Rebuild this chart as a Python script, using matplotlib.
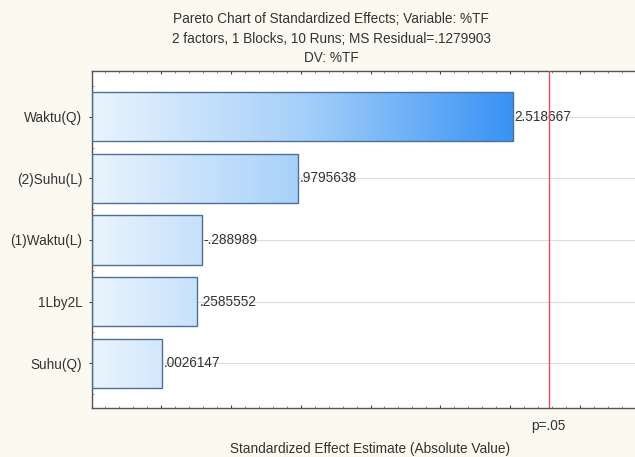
import numpy as np
import matplotlib
matplotlib.use("Agg")
import matplotlib.pyplot as plt
from matplotlib.colors import LinearSegmentedColormap
from matplotlib.ticker import MultipleLocator, NullFormatter

# ---- data ----
categories = ["Waktu(Q)", "(2)Suhu(L)", "(1)Waktu(L)", "1Lby2L", "Suhu(Q)"]
effects = [2.518667, 0.9795638, -0.288989, 0.2585552, 0.0026147]
t_crit = 2.776445  # p=.05, df=4
title_lines = ["Pareto Chart of Standardized Effects; Variable: %TF",
               "2 factors, 1 Blocks, 10 Runs; MS Residual=.1279903",
               "DV: %TF"]
xlabel = "Standardized Effect Estimate (Absolute Value)"
p_label = "p=.05"

def fmt(v):
    s = f"{v:.7g}"
    s = s.replace("-0.", "-.")
    if s.startswith("0."):
        s = s[1:]
    return s

plt.rcParams['font.family'] = ['Liberation Sans', 'DejaVu Sans']
txt_color = "#333333"
fs = 9.8

fig = plt.figure(figsize=(6.35, 4.57), dpi=100, facecolor="#FCF9F0")
W, H = 635, 457
ax = fig.add_axes([91.5 / W, 1 - 408 / H, 558 / W, 337 / H])
ax.set_facecolor("white")

xmin, xmax = -0.5, 3.5
y = np.arange(len(categories))

# grid lines at categories
for yi in y:
    ax.axhline(yi, color="#DCDCDC", lw=0.8, zorder=0)

cmap = LinearSegmentedColormap.from_list(
    "statblue", [(0, "#EAF4FE"), (0.5, "#A6D0F9"), (1, "#3892F5")])
grad = np.linspace(0, 1, 256).reshape(1, -1)
absvals = [abs(v) for v in effects]
gmax = max(absvals)

bars = ax.barh(y, [a - xmin for a in absvals], left=xmin, height=0.8,
               facecolor="none", edgecolor="#4F6F98", linewidth=1.0, zorder=3)
for b in bars:
    im = ax.imshow(grad, cmap=cmap, aspect="auto",
                   extent=(xmin, gmax, b.get_y() + b.get_height(), b.get_y()),
                   zorder=2, interpolation="bilinear")
    im.set_clip_path(b)
ax.set_xlim(xmin, xmax)
ax.set_ylim(len(categories) - 1 + 0.725, -0.741)

for yi, v, a in zip(y, effects, absvals):
    ax.annotate(fmt(v), xy=(a, yi), xytext=(2, 0), textcoords="offset pixels",
                ha="left", va="center", fontsize=fs, color=txt_color, zorder=4)

# critical value line
ax.axvline(t_crit, color="#E0505A", lw=1.0, zorder=5)
ax.annotate(p_label, xy=(t_crit, 0), xycoords=("data", "axes fraction"),
            xytext=(0, -18), textcoords="offset pixels", ha="center", va="center",
            fontsize=fs, color=txt_color, annotation_clip=False)

# ticks
ax.set_yticks(y)
ax.set_yticklabels(categories, fontsize=fs, color=txt_color)
ax.xaxis.set_major_locator(MultipleLocator(0.5))
ax.xaxis.set_minor_locator(MultipleLocator(0.1))
ax.xaxis.set_major_formatter(NullFormatter())
ax.tick_params(axis="x", which="major", direction="in", length=2.5, width=0.8,
               top=True, bottom=True, color="#444444")
ax.tick_params(axis="x", which="minor", direction="in", length=1.2, width=0.6,
               top=True, bottom=True, color="#777777")
ax.tick_params(axis="y", which="major", direction="out", length=2.5, width=0.8,
               pad=4, color="#444444")
ax.yaxis.set_minor_locator(MultipleLocator(0.25))
ax.tick_params(axis="y", which="minor", direction="in", length=1.2, width=0.6,
               color="#777777")
for s in ax.spines.values():
    s.set_color("#555555")
    s.set_linewidth(1.0)

# titles
tx = 331 / W
for line, py in zip(title_lines, [19, 39, 58]):
    fig.text(tx, 1 - py / H, line, ha="center", va="center", fontsize=fs,
             color=txt_color)
fig.text(370.5 / W, 1 - 449 / H, xlabel, ha="center", va="center",
         fontsize=fs, color=txt_color)

fig.savefig("out.png", dpi=100, facecolor=fig.get_facecolor())
